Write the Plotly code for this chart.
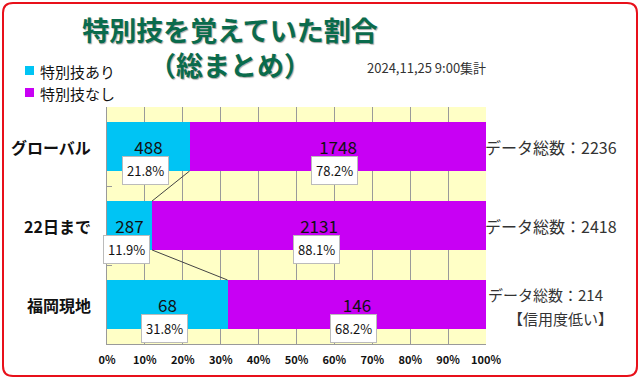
import plotly.graph_objects as go

categories = ["グローバル", "22日まで", "福岡現地"]
count_yes = [488, 287, 68]
count_no = [1748, 2131, 146]
pct_yes = [21.8, 11.9, 31.8]
pct_no = [78.2, 88.1, 68.2]
totals = [2236, 2418, 214]
x_ticks = [0, 10, 20, 30, 40, 50, 60, 70, 80, 90, 100]
series_names = ["特別技あり", "特別技なし"]
note_low = "【信用度低い】"

C_YES = "#00C4F4"
C_NO = "#C800F4"
JP = "Noto Sans CJK JP"

W, H = 640, 378
L, R, T, B = 107, 154, 107, 34
PW, PH = W - L - R, H - T - B
BW = 0.62

def px(x):
    return (x - L) / PW

def py(y):
    return (H - B - y) / PH

ypos = list(range(len(categories)))

fig = go.Figure()
fig.add_trace(go.Bar(
    y=ypos, x=pct_yes, orientation="h", name=series_names[0], marker_color=C_YES,
    width=BW, text=[str(v) for v in count_yes], textposition="inside",
    insidetextanchor="middle", textfont=dict(family=JP, size=17, color="#111"),
    marker_line_width=0, showlegend=False,
))
fig.add_trace(go.Bar(
    y=ypos, x=pct_no, orientation="h", name=series_names[1], marker_color=C_NO,
    width=BW, text=[str(v) for v in count_no], textposition="inside",
    insidetextanchor="middle", textfont=dict(family=JP, size=17, color="#111"),
    marker_line_width=0, showlegend=False,
))

annotations = []
for i in ypos:
    annotations.append(dict(
        x=pct_yes[i] / 2, y=i + BW / 2, xref="x", yref="y", text=f"{pct_yes[i]}%",
        showarrow=False, bgcolor="white", bordercolor="#BBBBBB", borderwidth=1, borderpad=4,
        font=dict(family=JP, size=13, color="#111"), xshift=-3, yanchor="middle",
    ))
    annotations.append(dict(
        x=pct_yes[i] + pct_no[i] / 2, y=i + BW / 2, xref="x", yref="y", text=f"{pct_no[i]}%",
        showarrow=False, bgcolor="white", bordercolor="#BBBBBB", borderwidth=1, borderpad=4,
        font=dict(family=JP, size=13, color="#111"), xshift=-3, yanchor="middle",
    ))
    annotations.append(dict(
        x=0, y=i, xref="paper", yref="y", text=f"<b>{categories[i]}</b>", showarrow=False,
        xanchor="right", yanchor="middle", xshift=-14,
        font=dict(family=JP, size=16, color="#111"),
    ))
    ann = dict(x=1, y=i, xref="paper", yref="y", text=f"データ総数：{totals[i]}",
               showarrow=False, xanchor="left", yanchor="middle", xshift=-3,
               font=dict(family=JP, size=16, color="#333"))
    if i == len(ypos) - 1:
        ann["yshift"] = 10
        ann["font"] = dict(family=JP, size=15, color="#333")
        ann["xshift"] = 0
    annotations.append(ann)

annotations.append(dict(
    x=px(560), y=py(318), xref="paper", yref="paper", text=note_low, showarrow=False,
    xanchor="center", yanchor="middle", font=dict(family=JP, size=15, color="#333"),
))
annotations.append(dict(
    x=px(488), y=py(67), xref="paper", yref="paper", text="2024,11,25 9:00集計",
    showarrow=False, xanchor="right", yanchor="middle",
    font=dict(family=JP, size=13, color="#333"),
))
for k, yc in enumerate([71, 93]):
    annotations.append(dict(
        x=px(38), y=py(yc), xref="paper", yref="paper", xanchor="left", yanchor="middle",
        text=series_names[k], showarrow=False, font=dict(family=JP, size=15, color="#111"),
    ))

shapes = []
for k, (yc, col) in enumerate([(71, C_YES), (93, C_NO)]):
    shapes.append(dict(type="rect", xref="paper", yref="paper",
                       x0=px(25), x1=px(34), y0=py(yc - 5), y1=py(yc + 4),
                       fillcolor=col, line=dict(width=0)))

for i in range(len(ypos) - 1):
    shapes.append(dict(type="line", xref="x", yref="y",
                       x0=pct_yes[i], y0=i + BW / 2, x1=pct_yes[i + 1], y1=i + 1 - BW / 2,
                       line=dict(color="#444", width=1), layer="above"))

x0, x1, y0, y1, r = 3, 637, 3, 376, 10
path = (f"M {px(x0 + r)},{py(y0)} L {px(x1 - r)},{py(y0)} Q {px(x1)},{py(y0)} {px(x1)},{py(y0 + r)} "
        f"L {px(x1)},{py(y1 - r)} Q {px(x1)},{py(y1)} {px(x1 - r)},{py(y1)} "
        f"L {px(x0 + r)},{py(y1)} Q {px(x0)},{py(y1)} {px(x0)},{py(y1 - r)} "
        f"L {px(x0)},{py(y0 + r)} Q {px(x0)},{py(y0)} {px(x0 + r)},{py(y0)} Z")
shapes.append(dict(type="path", xref="paper", yref="paper", path=path,
                   line=dict(color="#E8101A", width=2), layer="above"))

fig.update_layout(
    width=W, height=H, margin=dict(l=L, r=R, t=T, b=B, autoexpand=False),
    barmode="stack", bargap=0, paper_bgcolor="white", plot_bgcolor="#FFFFC6",
    title=dict(text="特別技を覚えていた割合<br>（総まとめ）", x=230 / W, xanchor="center",
               y=1 - 41 / H, yanchor="middle",
               font=dict(family=JP, size=27, color="#0A6B4C", weight="bold",
                         shadow="1px 1px 1px rgba(0,0,0,0.35)")),
    annotations=annotations, shapes=shapes, showlegend=False,
    xaxis=dict(range=[0, 100], tickvals=x_ticks, ticktext=[f"<b>{v}%</b>" for v in x_ticks],
               showgrid=True, gridcolor="#9A9A9A", gridwidth=1, zeroline=False,
               showline=True, linecolor="#9A9A9A", ticks="", ticklabelstandoff=6,
               tickfont=dict(family=JP, size=11, color="#111"), fixedrange=True),
    yaxis=dict(range=[2.5, -0.5], tickvals=ypos, showticklabels=False, showgrid=False,
               zeroline=False, showline=True, linecolor="#9A9A9A", ticks="",
               minor=dict(tickvals=[0.5, 1.5], ticks="inside", ticklen=5, tickcolor="#9A9A9A"),
               fixedrange=True),
    font=dict(family=JP),
)

fig.write_html("out.html", config={"displayModeBar": False},
               post_script="document.body.style.margin='0';")
